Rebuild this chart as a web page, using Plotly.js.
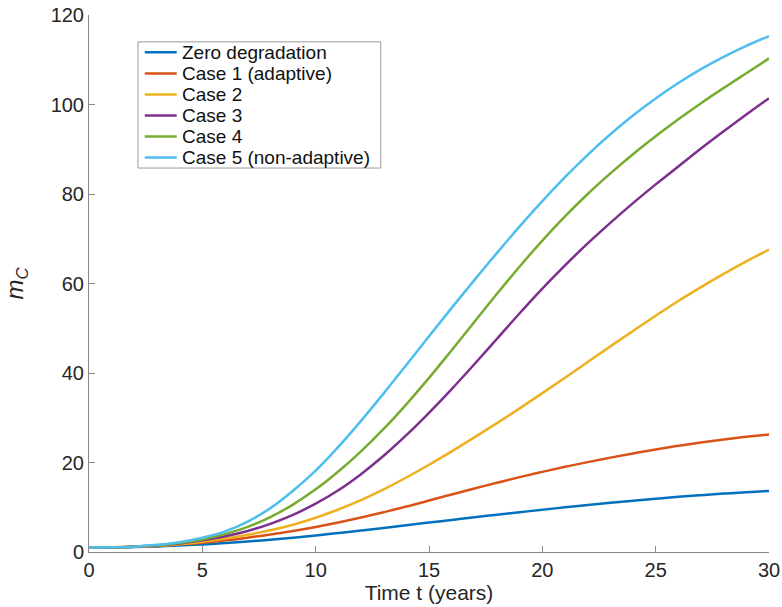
<!DOCTYPE html>
<html>
<head>
<meta charset="utf-8">
<script src="https://cdn.plot.ly/plotly-3.0.1.min.js"></script>
<style>
  html, body { margin: 0; padding: 0; background: #fff; }
  #chart { width: 782px; height: 607px; }
</style>
</head>
<body>
<div id="chart"></div>
<script>
// Time axis (years)
const years = [0, 1, 2, 3, 4, 5, 6, 7, 8, 9, 10, 11, 12, 13, 14, 15,
               16, 17, 18, 19, 20, 21, 22, 23, 24, 25, 26, 27, 28, 29, 30];

// m_C trajectories for each degradation scenario
const zeroDegradation = [1, 1.03, 1.1, 1.25, 1.45, 1.7, 2.0, 2.35, 2.75, 3.2, 3.7,
  4.23, 4.79, 5.37, 5.97, 6.57, 7.17, 7.76, 8.34, 8.9, 9.44, 9.98, 10.5, 11.0, 11.47, 11.91,
  12.32, 12.7, 13.05, 13.37, 13.65];
const case1 = [1, 1.05, 1.15, 1.35, 1.65, 2.05, 2.6, 3.2, 3.9, 4.7, 5.6,
  6.6, 7.7, 8.9, 10.15, 11.5, 12.85, 14.18, 15.48, 16.73, 17.91, 19.03, 20.09, 21.09, 22.03, 22.91,
  23.72, 24.46, 25.13, 25.73, 26.26];
const case2 = [1, 1.05, 1.15, 1.4, 1.75, 2.3, 3.0, 3.85, 4.85, 6.1, 7.65,
  9.5, 11.6, 14.0, 16.65, 19.5, 22.5, 25.6, 28.8, 32.1, 35.5, 38.95, 42.45, 45.95, 49.4, 52.8,
  56.1, 59.2, 62.15, 64.95, 67.55];
const case3 = [1, 1.05, 1.2, 1.45, 1.9, 2.6, 3.5, 4.7, 6.3, 8.3, 10.8,
  13.8, 17.4, 21.5, 26.1, 31.1, 36.4, 41.95, 47.65, 53.35, 58.85, 64.05, 68.95, 73.55, 77.95, 82.15,
  86.15, 90.15, 94.0, 97.75, 101.4];
const case4 = [1, 1.05, 1.2, 1.5, 2.0, 2.8, 4.0, 5.6, 7.8, 10.6, 14.0,
  18.0, 22.5, 27.5, 33.0, 38.9, 45.1, 51.4, 57.7, 63.8, 69.6, 75.0, 80.0, 84.6, 88.9, 92.9,
  96.7, 100.3, 103.7, 107.0, 110.3];
const case5 = [1, 1.05, 1.2, 1.6, 2.2, 3.2, 4.6, 6.8, 9.8, 13.7, 18.2,
  23.5, 29.3, 35.45, 41.8, 48.2, 54.55, 60.75, 66.85, 72.75, 78.4, 83.75, 88.75, 93.35, 97.55, 101.35,
  104.8, 107.9, 110.65, 113.1, 115.3];

const seriesNames = ['Zero degradation', 'Case 1 (adaptive)', 'Case 2', 'Case 3',
                     'Case 4', 'Case 5 (non-adaptive)'];
const seriesValues = [zeroDegradation, case1, case2, case3, case4, case5];
const seriesColors = ['#0072BD', '#D95319', '#EDB120', '#7E2F8E', '#77AC30', '#4DBEEE'];

const xTicks = [0, 5, 10, 15, 20, 25, 30];
const yTicks = [0, 20, 40, 60, 80, 100, 120];

const font = 'Liberation Sans, Arial, Helvetica, sans-serif';

const traces = seriesValues.map((vals, i) => ({
  x: years,
  y: vals,
  type: 'scatter',
  mode: 'lines',
  name: seriesNames[i],
  line: { color: seriesColors[i], width: 2.5, shape: 'spline', smoothing: 1 },
  hoverinfo: 'skip'
}));

// Compact boxed legend in the upper-left of the axes (paper coordinates)
const legendBox = { x0: 0.072, x1: 0.429, y0: 0.715, y1: 0.950 };
const rowHeight = (legendBox.y1 - legendBox.y0) / seriesNames.length;
const sampleX0 = 0.082, sampleX1 = 0.129, labelX = 0.134;

const legendShapes = [{
  type: 'rect', xref: 'paper', yref: 'paper',
  x0: legendBox.x0, x1: legendBox.x1, y0: legendBox.y0, y1: legendBox.y1,
  line: { color: '#9a9a9a', width: 1 }, fillcolor: '#ffffff', layer: 'above'
}];
const legendLabels = [];
seriesNames.forEach((name, i) => {
  const yc = legendBox.y1 - rowHeight * (i + 0.5);
  legendShapes.push({
    type: 'line', xref: 'paper', yref: 'paper',
    x0: sampleX0, x1: sampleX1, y0: yc, y1: yc,
    line: { color: seriesColors[i], width: 2.5 }, layer: 'above'
  });
  legendLabels.push({
    xref: 'paper', yref: 'paper', x: labelX, y: yc,
    xanchor: 'left', yanchor: 'middle', showarrow: false,
    text: name,
    font: { family: font, size: 19, color: '#111111' }
  });
});

const axisCommon = {
  showgrid: false,
  zeroline: false,
  showline: true,
  linecolor: '#8a8a8a',
  linewidth: 1,
  ticks: 'inside',
  ticklen: 6,
  tickwidth: 1,
  tickcolor: '#8a8a8a',
  tickfont: { family: font, size: 20, color: '#262626' },
  mirror: false
};

const layout = {
  width: 782,
  height: 607,
  margin: { l: 89, r: 13, t: 15, b: 55 },
  paper_bgcolor: '#ffffff',
  plot_bgcolor: '#ffffff',
  font: { family: font, color: '#262626' },
  showlegend: false,
  shapes: legendShapes,
  annotations: legendLabels,
  xaxis: Object.assign({}, axisCommon, {
    range: [0, 30],
    tickvals: xTicks,
    ticktext: xTicks.map(String),
    title: { text: 'Time t (years)', font: { family: font, size: 21, color: '#262626' }, standoff: 3 }
  }),
  yaxis: Object.assign({}, axisCommon, {
    range: [0, 120],
    tickvals: yTicks,
    ticktext: yTicks.map(String),
    title: { text: '<i>m</i><sub><i>C</i></sub>', font: { family: font, size: 24, color: '#262626' }, standoff: 20 }
  })
};

Plotly.newPlot('chart', traces, layout, { staticPlot: true, displayModeBar: false });
</script>
</body>
</html>
